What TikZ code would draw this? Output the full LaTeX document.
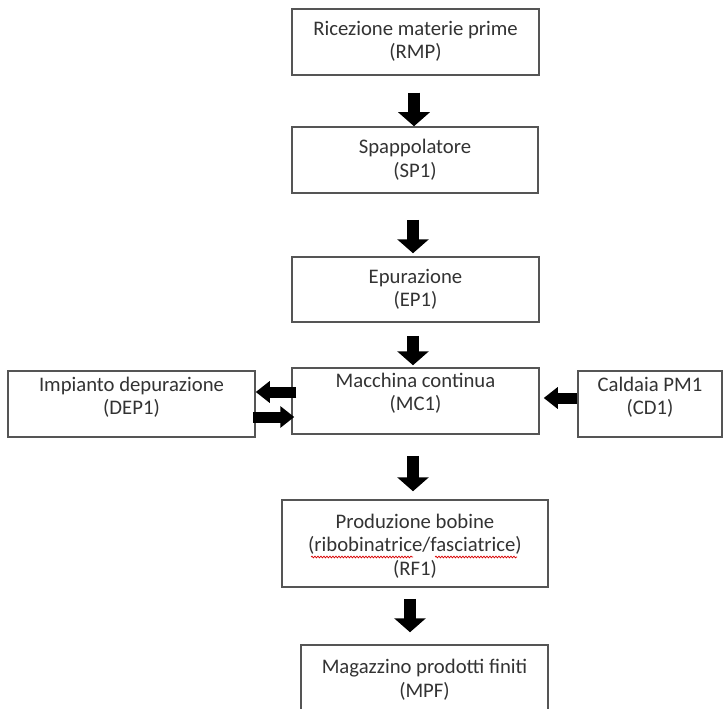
\documentclass[tikz,border=0pt]{standalone}
\usepackage{fontspec}
\setmainfont{Carlito}
\usetikzlibrary{arrows.meta,decorations.pathmorphing}
\definecolor{boxgray}{HTML}{555555}
\definecolor{txtgray}{HTML}{333333}
\begin{document}
\begin{tikzpicture}[x=1pt,y=-1pt,
  box/.style={draw=boxgray,line width=1.5pt,inner sep=0pt,minimum height=66pt},
  txt/.style={text=txtgray,align=center,inner sep=0pt,font=\fontsize{20.7}{23.5}\selectfont},
  varrow/.style={draw=black,line width=12pt,-{Triangle[width=31pt,length=14pt]}},
  harrow/.style={draw=black,line width=11pt,-{Triangle[width=21pt,length=14pt]}},
  squig/.style={draw=red!85!black,line width=0.7pt,decorate,decoration={snake,amplitude=0.9pt,segment length=3pt}}]
\useasboundingbox (0,0) rectangle (724,709);
\clip (0,0) rectangle (724,709);
\fill[white] (0,0) rectangle (724,709);
% boxes
\node[box,minimum width=247pt] (rmp) at (415.5,42) {};
\node[box,minimum width=246pt] (sp1) at (415,160) {};
\node[box,minimum width=247pt,minimum height=65pt] (ep1) at (415.5,289.5) {};
\node[box,minimum width=247pt] (mc1) at (415.5,401) {};
\node[box,minimum width=247pt] (dep1) at (131.5,404) {};
\node[box,minimum width=144pt] (cd1) at (650,404) {};
\node[box,minimum width=266pt,minimum height=87pt] (rf1) at (415,543.5) {};
\node[box,minimum width=247pt] (mpf) at (424.5,678) {};
% texts
\node[txt] (trmp) at (415.5,41.5) {Ricezione materie prime\\(RMP)};
\node[txt] (tsp1) at (415,159.5) {Spappolatore\\(SP1)};
\node[txt] (tep1) at (415.5,289.5) {Epurazione\\(EP1)};
\node[txt] (tmc1) at (415.5,393) {Macchina continua\\(MC1)};
\node[txt] (tdep1) at (131.5,397) {Impianto depurazione\\(DEP1)};
\node[txt] (tcd1) at (650,397) {Caldaia PM1\\(CD1)};
\node[txt] (trf1) at (415,546) {Produzione bobine\\(ribobinatrice/fasciatrice)\\(RF1)};
\node[txt] (tmpf) at (424.5,679.5) {Magazzino prodotti finiti\\(MPF)};
% spell-check squiggles
\draw[squig] (311,557) -- (413,557);
\draw[squig] (435,557) -- (517,557);
% vertical arrows
\draw[varrow,shorten <=17pt] ([xshift=-1.5pt]rmp.south) -- ([xshift=-1.5pt]rmp.south |- sp1.north);
\draw[varrow,shorten <=26pt,shorten >=3pt] ([xshift=-2pt]sp1.south) -- ([xshift=-2pt]sp1.south |- ep1.north);
\draw[varrow,shorten <=13pt,shorten >=2pt] ([xshift=-2.5pt]ep1.south) -- ([xshift=-2.5pt]ep1.south |- mc1.north);
\draw[varrow,shorten <=21pt,shorten >=8pt] ([xshift=-2.5pt]mc1.south) -- ([xshift=-2.5pt]mc1.south |- rf1.north);
\draw[varrow,shorten <=11pt,shorten >=12pt] ([xshift=-5pt]rf1.south) -- ([xshift=-5pt]rf1.south |- mpf.north);
% horizontal arrows
\coordinate (la) at ([xshift=5pt,yshift=9pt]mc1.west);
\draw[harrow] (la) -- (la -| dep1.east);
\coordinate (ra) at ([xshift=-3pt,yshift=-13pt]dep1.east);
\draw[harrow,shorten >=-3pt] (ra) -- (ra -| mc1.west);
\coordinate (ca) at ([yshift=6pt]cd1.west);
\draw[harrow,shorten >=4pt] (ca) -- (ca -| mc1.east);
\end{tikzpicture}
\end{document}
